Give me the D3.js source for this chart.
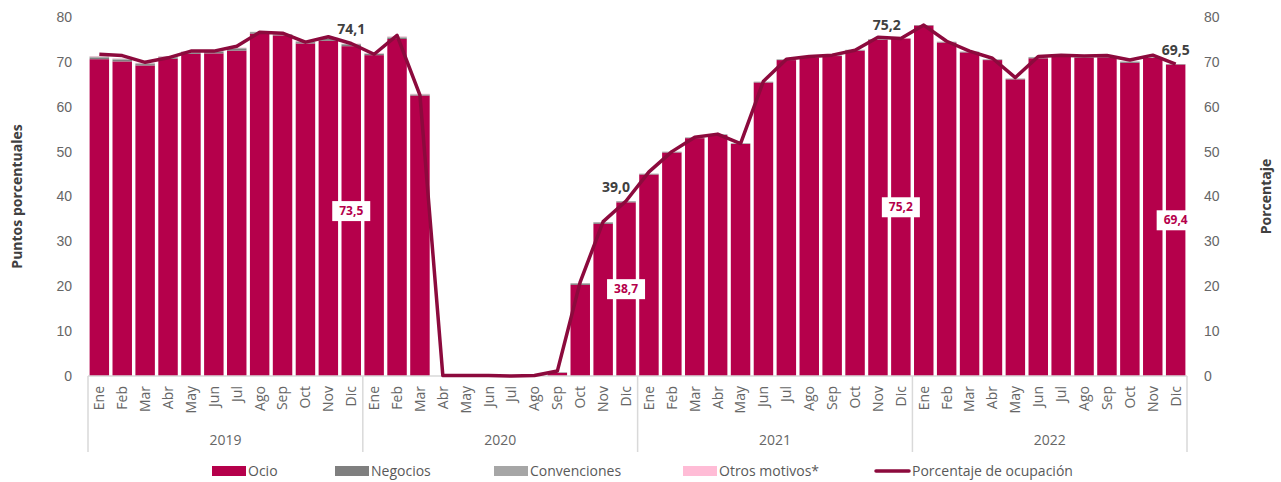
<!DOCTYPE html>
<html>
<head>
<meta charset="utf-8">
<script src="https://cdn.jsdelivr.net/npm/d3@7"></script>
<style>
  body { margin: 0; background: #fff; }
  svg { display: block; font-family: "Open Sans", "Noto Sans", sans-serif; }
  .tick-label { fill: #666; font-size: 14px; }
  .axis-title { fill: #404040; font-size: 14px; font-weight: 700; }
  .legend-text { fill: #595959; font-size: 14px; }
</style>
</head>
<body>
<div id="chart"></div>
<script>
// ---- data ----
const YEARS  = ["2019", "2020", "2021", "2022"];
const MONTHS = ["Ene", "Feb", "Mar", "Abr", "May", "Jun", "Jul", "Ago", "Sep", "Oct", "Nov", "Dic"];

// contribution (puntos porcentuales) by motive, Ene 2019 .. Dic 2022
const ocio = [
  70.6, 70.1, 69.2, 70.7, 71.8, 71.9, 72.5, 76.3, 75.9, 74.1, 74.7, 73.5,
  71.5, 75.1, 62.5, 0.0, 0.0, 0.0, 0.1, 0.1, 0.7, 20.3, 33.9, 38.7,
  44.9, 49.8, 53.0, 53.7, 51.7, 65.4, 70.4, 71.0, 71.3, 72.5, 74.9, 75.2,
  78.1, 74.3, 72.1, 70.4, 66.1, 70.8, 71.1, 70.9, 71.0, 69.8, 70.9, 69.4
];
const negocios = [
  0.4, 0.4, 0.3, 0.3, 0.3, 0.3, 0.4, 0.3, 0.2, 0.3, 0.4, 0.4,
  0.3, 0.3, 0.2, 0.0, 0.0, 0.0, 0.0, 0.0, 0.1, 0.3, 0.3, 0.2,
  0.1, 0.1, 0.1, 0.1, 0.1, 0.1, 0.1, 0.1, 0.1, 0.1, 0.1, 0.0,
  0.1, 0.1, 0.1, 0.1, 0.1, 0.2, 0.1, 0.1, 0.1, 0.2, 0.1, 0.1
];
const convenciones = [
  0.2, 0.2, 0.2, 0.2, 0.2, 0.2, 0.2, 0.1, 0.1, 0.2, 0.2, 0.1,
  0.1, 0.2, 0.1, 0.0, 0.0, 0.0, 0.0, 0.0, 0.0, 0.1, 0.1, 0.1,
  0.1, 0.1, 0.1, 0.1, 0.1, 0.1, 0.1, 0.1, 0.1, 0.1, 0.1, 0.0,
  0.0, 0.1, 0.1, 0.1, 0.1, 0.1, 0.1, 0.1, 0.1, 0.1, 0.1, 0.0
];
const otros = [
  0.1, 0.1, 0.1, 0.1, 0.1, 0.1, 0.1, 0.0, 0.0, 0.1, 0.1, 0.1,
  0.1, 0.1, 0.1, 0.0, 0.0, 0.0, 0.0, 0.0, 0.0, 0.0, 0.0, 0.0,
  0.0, 0.0, 0.0, 0.0, 0.0, 0.0, 0.0, 0.0, 0.0, 0.0, 0.0, 0.0,
  0.0, 0.0, 0.0, 0.0, 0.0, 0.0, 0.0, 0.0, 0.0, 0.0, 0.0, 0.0
];
// porcentaje de ocupación
const ocupacion = [
  71.7, 71.4, 69.9, 70.9, 72.4, 72.4, 73.5, 76.6, 76.4, 74.4, 75.6, 74.1,
  71.7, 75.9, 62.6, 0.1, 0.1, 0.1, 0.0, 0.1, 1.1, 21.0, 34.4, 39.0,
  45.5, 50.0, 53.2, 53.9, 51.8, 65.7, 70.6, 71.2, 71.5, 72.6, 75.5, 75.2,
  78.2, 74.6, 72.4, 70.8, 66.5, 71.2, 71.5, 71.3, 71.4, 70.4, 71.5, 69.5
];

const Y_TICKS = [0, 10, 20, 30, 40, 50, 60, 70, 80];
const SERIES  = ["Ocio", "Negocios", "Convenciones", "Otros motivos*"];
const LINE_NAME = "Porcentaje de ocupación";
// labelled months: [index, line label, bar label]
const LABELLED = [
  [11, "74,1", "73,5"],
  [23, "39,0", "38,7"],
  [35, "75,2", "75,2"],
  [47, "69,5", "69,4"]
];

// ---- layout ----
const fullW = 1281, fullH = 482;
const margin = { top: 17, right: 94, bottom: 106, left: 88 };
const W = fullW - margin.left - margin.right;
const H = fullH - margin.top - margin.bottom;

const COLORS = {
  "Ocio": "#b5004b",
  "Negocios": "#7f7f7f",
  "Convenciones": "#a6a6a6",
  "Otros motivos*": "#ffbcd6"
};
const LINE_COLOR = "#8c0a3d";

const rows = [];
YEARS.forEach((yr, yi) => MONTHS.forEach((m, mi) => {
  const i = yi * 12 + mi;
  rows.push({
    key: yr + "-" + m, year: yr, month: m, i,
    "Ocio": ocio[i], "Negocios": negocios[i],
    "Convenciones": convenciones[i], "Otros motivos*": otros[i],
    ocupacion: ocupacion[i]
  });
}));

const svg = d3.select("#chart").append("svg")
  .attr("width", fullW).attr("height", fullH);
const g = svg.append("g").attr("transform", `translate(${margin.left},${margin.top})`);

const x = d3.scaleBand().domain(rows.map(d => d.key)).range([0, W]).paddingInner(0.15).paddingOuter(0.07);
const y = d3.scaleLinear().domain([0, 80]).range([H, 0]);
const step = x.step();

// bars
const stacked = d3.stack().keys(SERIES)(rows);
g.selectAll(".series").data(stacked).join("g")
  .attr("class", "series")
  .attr("fill", s => COLORS[s.key])
  .selectAll("rect").data(s => s).join("rect")
  .attr("x", d => x(d.data.key))
  .attr("width", x.bandwidth())
  .attr("y", d => y(d[1]))
  .attr("height", d => Math.max(0, y(d[0]) - y(d[1])));

// left and right axes (labels only)
const yLeft = d3.axisLeft(y).tickValues(Y_TICKS).tickSize(0).tickPadding(16);
const yRight = d3.axisRight(y).tickValues(Y_TICKS).tickSize(0).tickPadding(17);
[g.append("g").call(yLeft), g.append("g").attr("transform", `translate(${W},0)`).call(yRight)]
  .forEach(ax => {
    ax.select(".domain").remove();
    ax.selectAll("text").attr("class", "tick-label").attr("font-family", null).attr("font-size", null).attr("fill", null);
  });

// baseline and year separators
g.append("line").attr("x1", 0).attr("x2", W).attr("y1", H).attr("y2", H)
  .attr("stroke", "#d9d9d9").attr("stroke-width", 1.5);
const yearStart = YEARS.map((yr, yi) => yi * 12 * step);
g.selectAll(".sep").data([...yearStart, W]).join("line")
  .attr("class", "sep")
  .attr("x1", d => d).attr("x2", d => d)
  .attr("y1", H).attr("y2", H + 76)
  .attr("stroke", "#d9d9d9").attr("stroke-width", 1.5);

// month labels
g.selectAll(".month").data(rows).join("text")
  .attr("class", "tick-label month")
  .attr("text-anchor", "end")
  .attr("transform", d => `translate(${x(d.key) + x.bandwidth() / 2},${H + 10}) rotate(-90)`)
  .attr("dy", "0.35em")
  .text(d => d.month);

// year labels
g.selectAll(".year").data(YEARS).join("text")
  .attr("class", "tick-label year")
  .attr("text-anchor", "middle")
  .attr("x", (d, i) => yearStart[i] + 6 * step)
  .attr("y", H + 69)
  .text(d => d);

// occupancy line
const cx = d => x(d.key) + x.bandwidth() / 2;
g.append("path").datum(rows)
  .attr("fill", "none")
  .attr("stroke", LINE_COLOR)
  .attr("stroke-width", 3.5)
  .attr("stroke-linejoin", "round")
  .attr("d", d3.line().x(cx).y(d => y(d.ocupacion)));

// line labels (above) and bar labels (boxed, middle of Ocio segment)
const lineLabelDx = [0, -10, -14, 0];
LABELLED.forEach(([i, lineTxt, barTxt], k) => {
  const d = rows[i];
  g.append("text")
    .attr("x", cx(d) + lineLabelDx[k])
    .attr("y", y(d.ocupacion) - 9)
    .attr("text-anchor", "middle")
    .attr("fill", "#404040")
    .style("font-size", "14px")
    .style("font-weight", "700")
    .text(lineTxt);

  const by = y(d["Ocio"] / 2);
  g.append("rect")
    .attr("x", cx(d) - 19).attr("y", by - 10)
    .attr("width", 38).attr("height", 20)
    .attr("fill", "#fff");
  g.append("text")
    .attr("x", cx(d)).attr("y", by)
    .attr("dy", "0.35em")
    .attr("text-anchor", "middle")
    .attr("fill", "#b5004b")
    .style("font-size", "12px")
    .style("font-weight", "700")
    .text(barTxt);
});

// axis titles
svg.append("text").attr("class", "axis-title")
  .attr("text-anchor", "middle")
  .attr("transform", `translate(22,${margin.top + H / 2}) rotate(-90)`)
  .text("Puntos porcentuales");
svg.append("text").attr("class", "axis-title")
  .attr("text-anchor", "middle")
  .attr("transform", `translate(1271,${margin.top + H / 2}) rotate(-90)`)
  .text("Porcentaje");

// legend
const legendItems = [
  { name: "Ocio", x: 212 },
  { name: "Negocios", x: 335 },
  { name: "Convenciones", x: 494 },
  { name: "Otros motivos*", x: 683 },
  { name: LINE_NAME, x: 876, line: true }
];
const lg = svg.append("g").attr("transform", "translate(0,471)");
legendItems.forEach(it => {
  if (it.line) {
    lg.append("line").attr("x1", it.x).attr("x2", it.x + 33).attr("y1", 0).attr("y2", 0)
      .attr("stroke", LINE_COLOR).attr("stroke-width", 3.5).attr("stroke-linecap", "round");
  } else {
    lg.append("rect").attr("x", it.x).attr("y", -5).attr("width", 34).attr("height", 10)
      .attr("fill", COLORS[it.name]);
  }
  lg.append("text").attr("class", "legend-text")
    .attr("x", it.x + 36).attr("y", 0).attr("dy", "0.35em")
    .text(it.name);
});
</script>
</body>
</html>
